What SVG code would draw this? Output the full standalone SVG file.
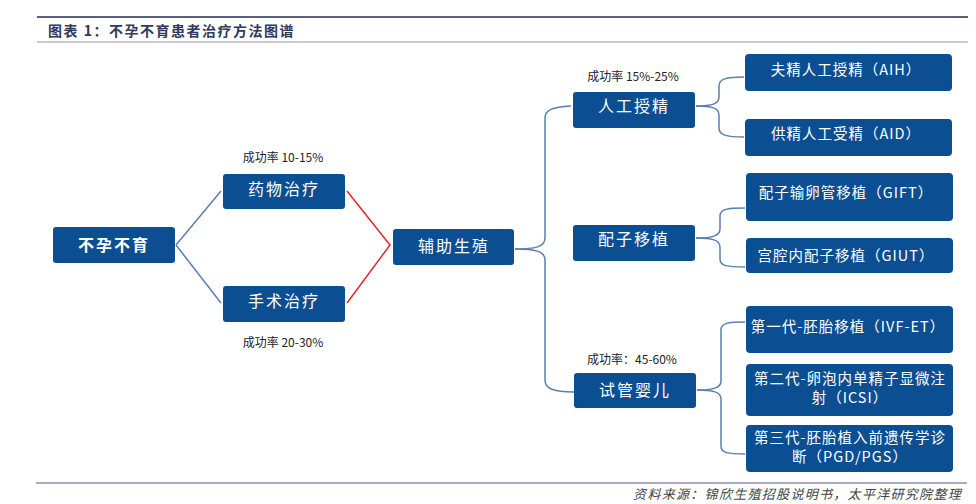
<svg xmlns="http://www.w3.org/2000/svg" width="976" height="504" viewBox="0 0 976 504">
<style>
  .box { fill: #0b4f92; }
  .nt { fill: #ffffff; font-family: "Noto Sans CJK SC", "Liberation Sans", sans-serif; font-size: 16px; text-anchor: middle; dominant-baseline: central; letter-spacing: 2px; }
  .st { fill: #ffffff; font-family: "Noto Sans CJK SC", "Liberation Sans", sans-serif; font-size: 14.5px; text-anchor: middle; dominant-baseline: central; letter-spacing: 1px; }
  .lbl { fill: #222222; font-family: "Noto Sans CJK SC", "Liberation Sans", sans-serif; font-size: 12px; text-anchor: middle; dominant-baseline: central; }
  .con { fill: none; stroke: #5b7fb0; stroke-width: 1.5; }
  .red { fill: none; stroke: #e0282a; stroke-width: 1.5; }
</style>
<rect width="976" height="504" fill="#ffffff"/>
<g id="header">
  <line x1="37" y1="17" x2="968" y2="17" stroke="#5c5f7e" stroke-width="2"/>
  <line x1="37" y1="42" x2="968" y2="42" stroke="#b4b4c8" stroke-width="1.5"/>
  <text x="48" y="30" font-family="Noto Sans CJK SC, Liberation Sans, sans-serif" font-size="14" font-weight="bold" fill="#2f3a5c" dominant-baseline="central" letter-spacing="1.5">图表 1：不孕不育患者治疗方法图谱</text>
</g>
<g id="connectors">
  <path class="con" d="M176,245 L221,191 M176,245 L221,303"/>
  <path class="red" d="M347,191 L390,245 L347,303"/>
  <path class="con" d="M515,249 C535,249 545,247 545,238 L545,118 C545,110 552,107 571,106"/>
  <path class="con" d="M515,249 C535,249 545,251 545,260 L545,380 C545,388 552,392 574,392"/>
  <path class="con" d="M696,106 C712,106 719,104 719,97 L719,86 C719,79 726,77 744,77"/>
  <path class="con" d="M696,106 C712,106 719,108 719,115 L719,128 C719,135 726,137 744,137"/>
  <path class="con" d="M696,238 C712,238 720,236 720,229 L720,216 C720,209 727,208 745,208"/>
  <path class="con" d="M696,238 C712,238 720,240 720,247 L720,259 C720,266 727,267 745,267"/>
  <path class="con" d="M697,390 C713,390 721,388 721,381 L721,330 C721,323 728,322 745,322"/>
  <path class="con" d="M697,390 C713,390 721,392 721,399 L721,446 C721,453 728,454 745,454"/>
</g>
<g id="n-root">
  <rect class="box" x="53" y="227" width="122" height="36" rx="3"/>
  <text class="nt" x="114" y="244" font-weight="bold">不孕不育</text>
</g>
<g id="n-drug">
  <rect class="box" x="223" y="174" width="122" height="35" rx="3"/>
  <text class="nt" x="284" y="188">药物治疗</text>
  <text class="lbl" x="283" y="156">成功率 10-15%</text>
</g>
<g id="n-surgery">
  <rect class="box" x="223" y="286" width="122" height="36" rx="3"/>
  <text class="nt" x="284" y="300">手术治疗</text>
  <text class="lbl" x="283" y="341">成功率 20-30%</text>
</g>
<g id="n-art">
  <rect class="box" x="393" y="229" width="121" height="36" rx="3"/>
  <text class="nt" x="454" y="245">辅助生殖</text>
</g>
<g id="n-ai">
  <rect class="box" x="573" y="92" width="122" height="36" rx="3"/>
  <text class="nt" x="634" y="105">人工授精</text>
  <text class="lbl" x="633" y="75">成功率 15%-25%</text>
</g>
<g id="n-gt">
  <rect class="box" x="573" y="225" width="122" height="36" rx="3"/>
  <text class="nt" x="634" y="238">配子移植</text>
</g>
<g id="n-ivf">
  <rect class="box" x="574" y="373" width="122" height="35" rx="3"/>
  <text class="nt" x="635" y="389">试管婴儿</text>
  <text class="lbl" x="632" y="358">成功率：45-60%</text>
</g>
<g id="n-aih">
  <rect class="box" x="745" y="54" width="207" height="37" rx="4"/>
  <text class="st" x="846" y="68">夫精人工授精（AIH）</text>
</g>
<g id="n-aid">
  <rect class="box" x="745" y="119" width="207" height="37" rx="4"/>
  <text class="st" x="846" y="132">供精人工受精（AID）</text>
</g>
<g id="n-gift">
  <rect class="box" x="746" y="173" width="207" height="48" rx="4"/>
  <text class="st" x="846" y="191">配子输卵管移植（GIFT）</text>
</g>
<g id="n-giut">
  <rect class="box" x="746" y="238" width="207" height="35" rx="4"/>
  <text class="st" x="846" y="254">宫腔内配子移植（GIUT）</text>
</g>
<g id="n-gen1">
  <rect class="box" x="746" y="306" width="207" height="47" rx="4"/>
  <text class="st" x="848" y="325">第一代-胚胎移植（IVF-ET）</text>
</g>
<g id="n-gen2">
  <rect class="box" x="746" y="364" width="207" height="52" rx="4"/>
  <text class="st" x="850" y="377">第二代-卵泡内单精子显微注</text>
  <text class="st" x="850" y="396">射（ICSI）</text>
</g>
<g id="n-gen3">
  <rect class="box" x="746" y="425" width="207" height="47" rx="4"/>
  <text class="st" x="850" y="436">第三代-胚胎植入前遗传学诊</text>
  <text class="st" x="850" y="455.5">断（PGD/PGS）</text>
</g>
<g id="footer">
  <line x1="36" y1="483" x2="967" y2="483" stroke="#a9a9c6" stroke-width="2"/>
  <text x="962" y="493" text-anchor="end" font-family="Noto Sans CJK SC, Liberation Sans, sans-serif" font-size="13" font-style="italic" fill="#444444" dominant-baseline="central" letter-spacing="1.3">资料来源：锦欣生殖招股说明书，太平洋研究院整理</text>
</g>
</svg>
